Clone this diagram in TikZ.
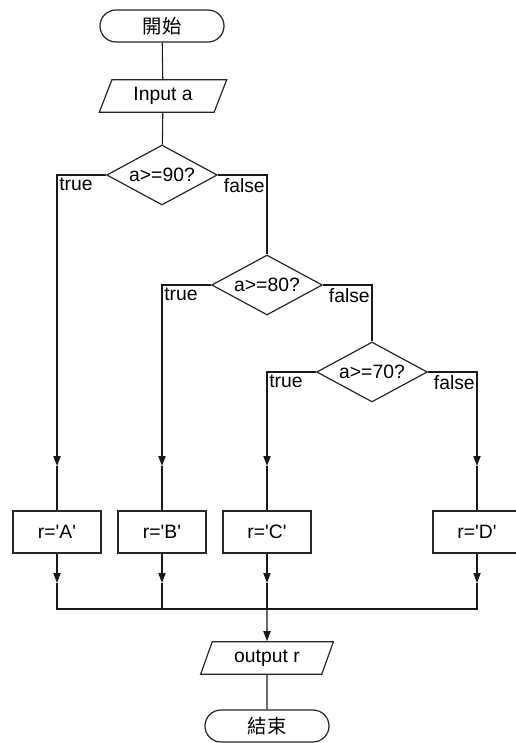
\documentclass[tikz,border=0pt]{standalone}
\usepackage{fontspec}
\setmainfont{Liberation Sans}
\newfontfamily\cjk{Noto Sans CJK TC}
\usetikzlibrary{arrows.meta,positioning,calc,shapes.geometric,shapes.misc}

\begin{document}
\begin{tikzpicture}[x=0.75pt,y=-0.75pt,font=\fontsize{14.5}{17}\selectfont,
  term/.style={rounded rectangle,draw=black!85,line width=0.9pt,minimum width=93pt,minimum height=24pt,inner sep=0},
  io/.style={trapezium,trapezium left angle=67,trapezium right angle=113,trapezium stretches=true,
             draw=black!85,line width=0.9pt,minimum height=24.5pt,inner sep=0},
  dec/.style={diamond,draw=black!85,line width=0.9pt,aspect=1.85,minimum width=83pt,minimum height=45pt,inner sep=0},
  proc/.style={rectangle,draw=black!85,line width=0.9pt,minimum width=66pt,minimum height=31.5pt,inner sep=0},
  lbl/.style={inner sep=0},
  ln/.style={line width=0.8pt,black!90},
  arr/.style={ln,-{Triangle[length=7.5pt,width=5.5pt]}}]
\useasboundingbox (0,0) rectangle (515,743);

%% start, input and the three tests
\node[term] (start) at (162,26) {\cjk 開始};
\node[io,minimum width=96pt] (inp) at (163,96) {Input a};
\node[dec] (d90) at (162,175) {a>=90?};
\node[dec] (d80) at (267,285) {a>=80?};
\node[dec] (d70) at (372,372) {a>=70?};

%% grade boxes
\foreach \g/\x in {A/57, B/162, C/267, D/477}
  \node[proc] (r\g) at (\x,532) {r=\textquotesingle\g\textquotesingle};

%% output and end
\node[io,minimum width=100pt] (out) at (267,658) {output r};
\node[term] (stop) at (267,726) {\cjk 結束};

%% arrow points on the branches, below the boxes and on the join line
\foreach \g/\x in {A/57, B/162, C/267, D/477} {
  \coordinate (a\g) at (\x,466);
  \coordinate (b\g) at (\x,583);
  \coordinate (j\g) at (\x,609);
}

\draw[ln] (start) -- (inp);
\draw[ln] (inp) -- (d90);

%% true goes left, false goes right
\draw[arr] (d90.west) -| (aA);
\draw[ln] (d90.east) -| (d80.north);
\draw[arr] (d80.west) -| (aB);
\draw[ln] (d80.east) -| (d70.north);
\draw[arr] (d70.west) -| (aC);
\draw[arr] (d70.east) -| (aD);
\foreach \g in {A,B,C,D}
  \draw[ln] (a\g) -- (r\g.north);

%% branch labels
\coordinate (t90) at (57,175);  \coordinate (f90) at (267,175);
\coordinate (t80) at (162,285); \coordinate (f80) at (372,285);
\coordinate (t70) at (267,372); \coordinate (f70) at (477,372);
\foreach \v in {90,80,70} {
  \node[lbl,anchor=north west] at ($(t\v)+(2,3)$) {true};
  \node[lbl,anchor=north east] at ($(f\v)+(-2,3)$) {false};
}

%% join
\foreach \g in {A,B,C,D}
  \draw[arr] (r\g.south) -- (b\g);
\draw[ln] (bA) -- (jA) -- (jD) -- (bD);
\draw[ln] (bB) -- (jB);
\draw[ln] (bC) -- (jC);
\draw[arr] (jC) -- (out.north);
\draw[ln] (out) -- (stop);
\end{tikzpicture}
\end{document}
